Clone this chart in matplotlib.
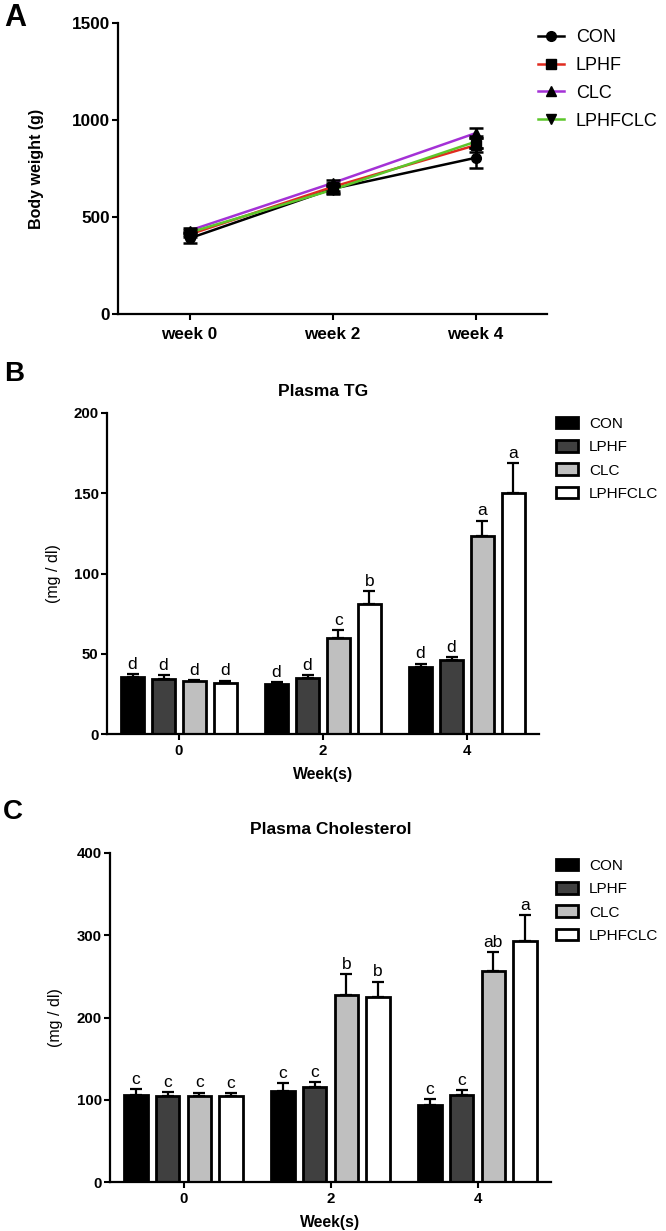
import matplotlib
matplotlib.use("Agg")
import matplotlib.pyplot as plt
import numpy as np
from matplotlib.lines import Line2D
from matplotlib.patches import Patch

plt.rcParams['font.family'] = ['Liberation Sans', 'DejaVu Sans']

groups = ['CON', 'LPHF', 'CLC', 'LPHFCLC']

# Panel A: body weight
weeks_a = ['week 0', 'week 2', 'week 4']
bw_mean = {
    'CON':     [390, 645, 805],
    'LPHF':    [410, 655, 870],
    'CLC':     [430, 675, 932],
    'LPHFCLC': [420, 640, 888],
}
bw_err = {
    'CON':     [25, 20, 50],
    'LPHF':    [15, 20, 35],
    'CLC':     [15, 15, 25],
    'LPHFCLC': [15, 20, 30],
}

# Panel B: plasma TG
weeks_b = ['0', '2', '4']
tg_mean = {
    'CON':     [35.8, 31.0, 42.0],
    'LPHF':    [34.3, 35.1, 46.4],
    'CLC':     [33.0, 60.1, 123.5],
    'LPHFCLC': [32.0, 81.1, 150.4],
}
tg_err = {
    'CON':     [1.6, 1.2, 1.9],
    'LPHF':    [2.5, 1.5, 1.8],
    'CLC':     [0.7, 4.9, 9.5],
    'LPHFCLC': [1.3, 7.7, 18.4],
}
tg_sig = {
    'CON':     ['d', 'd', 'd'],
    'LPHF':    ['d', 'd', 'd'],
    'CLC':     ['d', 'c', 'a'],
    'LPHFCLC': ['d', 'b', 'a'],
}

# Panel C: plasma cholesterol
ch_mean = {
    'CON':     [105.2, 110.9, 93.4],
    'LPHF':    [104.4, 116.1, 106.0],
    'CLC':     [104.4, 227.4, 256.6],
    'LPHFCLC': [104.0, 225.0, 293.4],
}
ch_err = {
    'CON':     [8.1, 8.9, 7.3],
    'LPHF':    [5.2, 5.3, 5.3],
    'CLC':     [4.4, 25.2, 22.8],
    'LPHFCLC': [3.6, 18.7, 31.6],
}
ch_sig = {
    'CON':     ['c', 'c', 'c'],
    'LPHF':    ['c', 'c', 'c'],
    'CLC':     ['c', 'b', 'ab'],
    'LPHFCLC': ['c', 'b', 'a'],
}

line_colors = {'CON': '#000000', 'LPHF': '#e02b1f', 'CLC': '#a431d6', 'LPHFCLC': '#5cc72a'}
markers = {'CON': 'o', 'LPHF': 's', 'CLC': '^', 'LPHFCLC': 'v'}
bar_colors = {'CON': '#000000', 'LPHF': '#404040', 'CLC': '#bfbfbf', 'LPHFCLC': '#ffffff'}

W, H = 666, 1231
fig = plt.figure(figsize=(W / 100, H / 100), dpi=100)


def axes_px(l, t, r, b):
    return fig.add_axes([l / W, 1 - b / H, (r - l) / W, (b - t) / H])


def style_axes(ax, tsize, xpad=3):
    for s in ['top', 'right']:
        ax.spines[s].set_visible(False)
    for s in ['left', 'bottom']:
        ax.spines[s].set_linewidth(1.6)
    ax.tick_params(width=1.5, length=4.5, labelsize=tsize)
    ax.tick_params(axis='x', pad=xpad)
    ax.tick_params(axis='y', pad=1.5)
    for lab in ax.get_xticklabels() + ax.get_yticklabels():
        lab.set_fontweight('bold')


# ---------------- Panel A ----------------
axA = axes_px(118, 23, 547, 314)
xa = np.arange(len(weeks_a))
for g in groups:
    axA.plot(xa, bw_mean[g], color=line_colors[g], lw=1.8, zorder=2)
for g in groups:
    axA.errorbar(xa, bw_mean[g], yerr=bw_err[g], fmt=markers[g], color='black',
                 ms=7, ecolor='black', elinewidth=1.8, capsize=5, capthick=1.8, zorder=3)
axA.set_xlim(-0.5, 2.5)
axA.set_ylim(0, 1500)
axA.set_yticks([0, 500, 1000, 1500])
axA.set_xticks(xa)
axA.set_xticklabels(weeks_a)
style_axes(axA, 12.3, xpad=5)
axA.set_ylabel('Body weight (g)', fontsize=11.5, fontweight='bold')
axA.yaxis.set_label_coords(44 / W, 0.5 * (2 - (23 + 314) / H), transform=fig.transFigure)
handlesA = [Line2D([0], [0], color=line_colors[g], lw=1.8, marker=markers[g],
                   mfc='black', mec='black', ms=7) for g in groups]
axA.legend(handlesA, groups, loc='upper left', bbox_to_anchor=(538 / W, 1 - 29 / H),
           bbox_transform=fig.transFigure, frameon=False, fontsize=13,
           handlelength=1.45, handletextpad=0.65, labelspacing=0.6,
           borderaxespad=0, borderpad=0)
fig.text(4 / W, 1 - 3 / H, 'A', fontsize=22, fontweight='bold', va='top', ha='left')


def bar_panel(ax, means, errs, sigs, ylim, yticks, title, title_pad, legend_top, ylab_x, top, bottom):
    xg = np.arange(len(weeks_b))
    step = 0.215
    width = 0.158
    for j, g in enumerate(groups):
        xs = xg + (j - 1.5) * step
        ax.bar(xs, means[g], width=width, color=bar_colors[g], edgecolor='black',
               linewidth=2.0, zorder=2)
        ax.errorbar(xs, means[g], yerr=[np.zeros(len(xs)), errs[g]], fmt='none',
                    ecolor='black', elinewidth=1.6, capsize=4.5, capthick=1.6, zorder=1)
        for x, m, e, s in zip(xs, means[g], errs[g], sigs[g]):
            ax.annotate(s, (x, m + e), xytext=(0, 1.5), textcoords='offset points',
                        ha='center', va='bottom', fontsize=12.5)
    ax.set_xlim(-0.5, 2.5)
    ax.set_ylim(*ylim)
    ax.set_yticks(yticks)
    ax.set_xticks(xg)
    ax.set_xticklabels(weeks_b)
    style_axes(ax, 10.8)
    ax.set_xlabel('Week(s)', fontsize=11.3, fontweight='bold', labelpad=6)
    ax.set_ylabel('(mg / dl)', fontsize=11.5)
    ax.yaxis.set_label_coords(ylab_x / W, 1 - 0.5 * (top + bottom) / H, transform=fig.transFigure)
    ax.set_title(title, fontsize=12.5, fontweight='bold', pad=title_pad)
    handles = [Patch(facecolor=bar_colors[g], edgecolor='black', linewidth=2.0) for g in groups]
    ax.legend(handles, groups, loc='upper left', bbox_to_anchor=(556 / W, 1 - legend_top / H),
              bbox_transform=fig.transFigure, frameon=False, fontsize=11,
              handlelength=1.45, handleheight=0.78, handletextpad=0.7, labelspacing=0.6,
              borderaxespad=0, borderpad=0)


axB = axes_px(107, 413, 539, 734)
bar_panel(axB, tg_mean, tg_err, tg_sig, (0, 200), [0, 50, 100, 150, 200], 'Plasma TG', 12,
          417, 61, 413, 734)
fig.text(4 / W, 1 - 361 / H, 'B', fontsize=20, fontweight='bold', va='top', ha='left')

axC = axes_px(110, 853, 551, 1182)
bar_panel(axC, ch_mean, ch_err, ch_sig, (0, 400), [0, 100, 200, 300, 400], 'Plasma Cholesterol', 14,
          859, 63, 853, 1182)
fig.text(3 / W, 1 - 799 / H, 'C', fontsize=20, fontweight='bold', va='top', ha='left')

fig.savefig('out.png', dpi=100)
